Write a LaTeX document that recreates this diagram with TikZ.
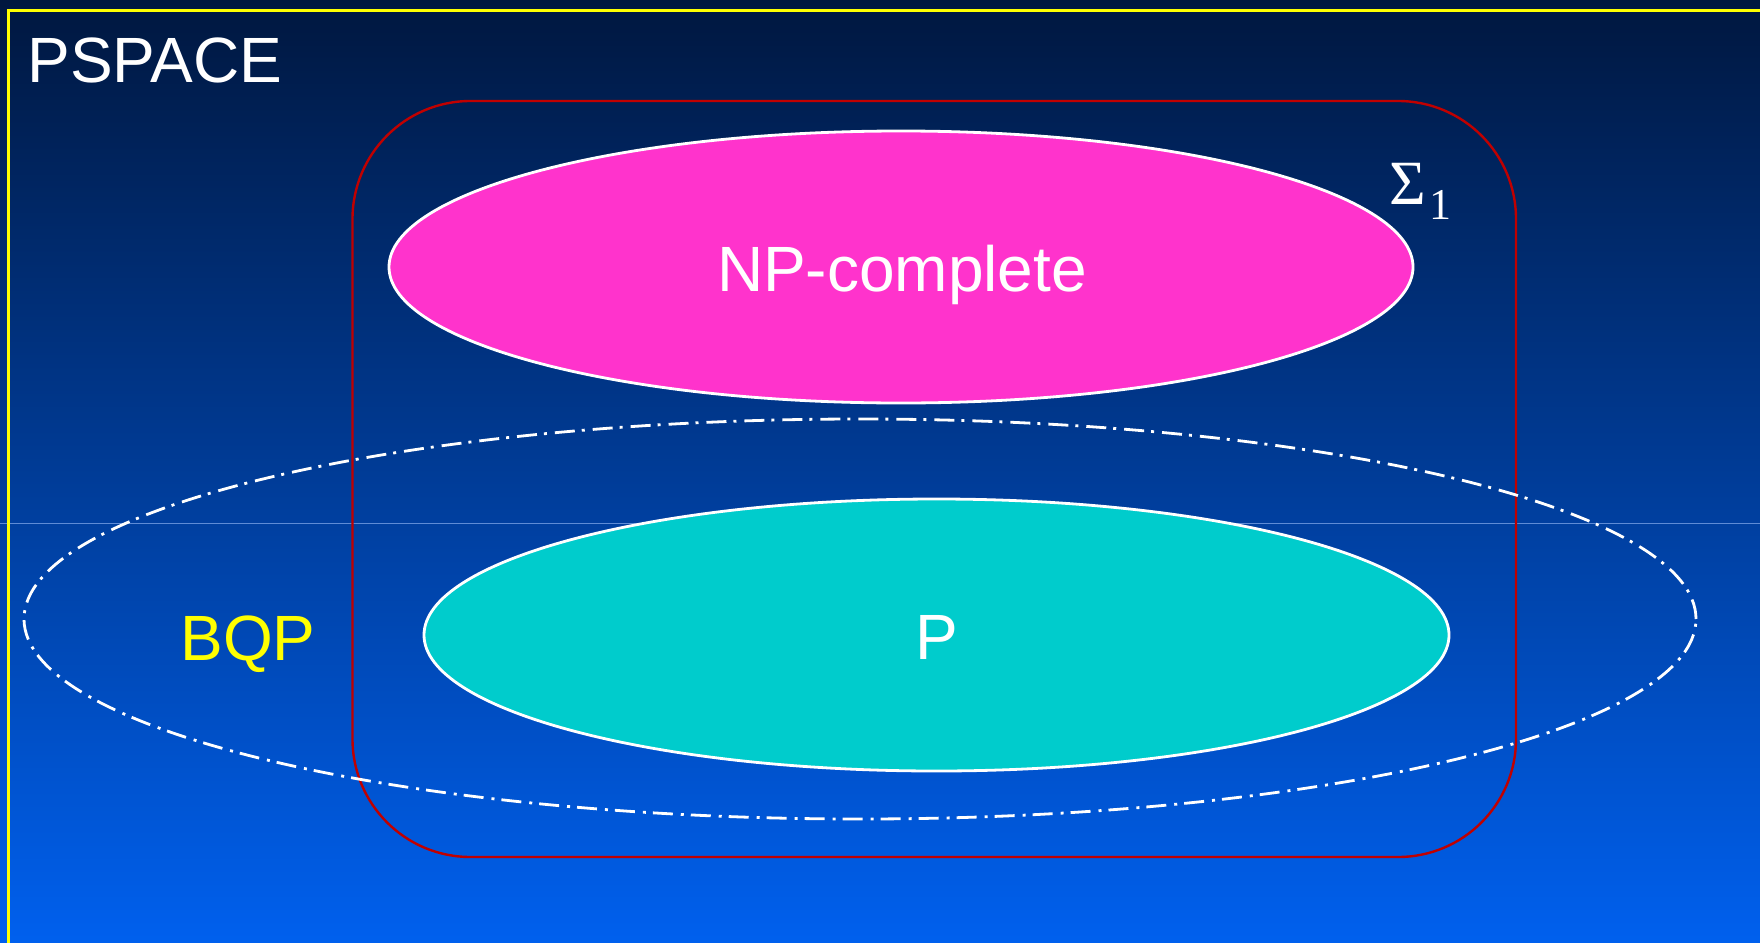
\documentclass[tikz,border=0pt]{standalone}
\usepackage{fontspec}
\setmainfont{Liberation Sans}
\newfontfamily\greekserif{Liberation Serif}
\usetikzlibrary{shapes.geometric}

\definecolor{bgtop}{HTML}{00173F}
\definecolor{bgmid}{HTML}{0046B2}
\definecolor{bgbot}{HTML}{0060EE}
\definecolor{seam}{HTML}{5F8CD6}
\definecolor{frameyellow}{HTML}{FFFF00}
\definecolor{sigmared}{HTML}{C00000}
\definecolor{npmagenta}{HTML}{FF33CC}
\definecolor{pcyan}{HTML}{00CCCC}
\definecolor{bqpyellow}{HTML}{FFFF00}

\tikzset{
  classname/.style={inner sep=0pt, anchor=base, text=white, font=\fontsize{32pt}{36pt}\selectfont},
  classblob/.style={ellipse, draw=white, line width=1.4pt, inner sep=0pt, outer sep=0pt},
  dashdotline/.style={draw=white, line width=1.4pt,
    dash pattern=on 10pt off 4pt on 1.5pt off 3.5pt},
}

\begin{document}
\begin{tikzpicture}[x=0.5pt, y=-0.5pt]
  \useasboundingbox (0,0) rectangle (1760,942);
  \clip (0,0) rectangle (1760,942);

  % background gradient
  \shade[top color=bgtop, middle color=bgmid, bottom color=bgbot]
    (0,0) rectangle (1760,942);
  \draw[seam, line width=0.5pt] (0,523.5) -- (1760,523.5);

  % PSPACE frame
  \draw[frameyellow, line width=1.5pt] (8,10) rectangle (1790,980);
  \node[classname, anchor=base west] (pspace) at (27,82) {PSPACE};

  % Sigma_1 region
  \node[draw=sigmared, line width=1.2pt, rounded corners=59pt,
        minimum width=581.75pt, minimum height=378pt, inner sep=0pt]
        (sigma) at (934.25,479) {};
  \node[inner sep=0pt, anchor=base west, text=white,
        font=\greekserif\fontsize{31.5pt}{34pt}\selectfont]
        (sigmalabel) at (1389,204) {Σ};
  \node[inner sep=0pt, anchor=base west, text=white,
        font=\greekserif\fontsize{22pt}{26pt}\selectfont]
        (sigmaindex) at (1429,219) {1};

  % NP-complete
  \node[classblob, fill=npmagenta, minimum width=512pt, minimum height=136pt]
        (np) at (901,267) {};
  \node[classname] (nplabel) at (902,291) {NP-complete};

  % BQP
  \node[ellipse, dashdotline, minimum width=836pt, minimum height=200pt, inner sep=0pt]
        (bqp) at (860,619) {};
  \node[classname, text=bqpyellow] (bqplabel) at (248,660) {BQP};

  % P
  \node[classblob, fill=pcyan, minimum width=512.5pt, minimum height=136pt]
        (p) at (936.5,635) {};
  \node[classname] (plabel) at (937,659) {P};
\end{tikzpicture}
\end{document}
